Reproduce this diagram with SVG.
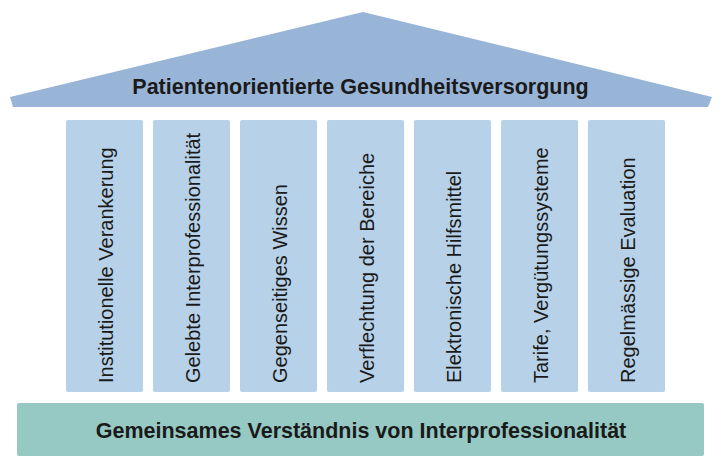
<svg xmlns="http://www.w3.org/2000/svg" width="726" height="474" viewBox="0 0 726 474">
<style>
.pillar{fill:#b7d2e8}
.ptxt{font-family:"Liberation Sans",Arial,sans-serif;font-size:20px;fill:#1a1a1a}
.btxt{font-family:"Liberation Sans",Arial,sans-serif;font-size:21.5px;font-weight:bold;fill:#1a1a1a;text-anchor:middle}
</style>
<rect width="726" height="474" fill="#ffffff"/>
<g id="roof">
<polygon points="10,97 363,12 712,97 708,107 13,107" fill="#98b5d8"/>
<text class="btxt" x="360.5" y="94">Patientenorientierte Gesundheitsversorgung</text>
</g>
<g id="pillar1"><rect class="pillar" x="66" y="120" width="77" height="272" rx="2"/><text class="ptxt" transform="translate(112.5,383) rotate(-90)">Institutionelle Verankerung</text></g>
<g id="pillar2"><rect class="pillar" x="153" y="120" width="77" height="272" rx="2"/><text class="ptxt" transform="translate(199.5,383) rotate(-90)">Gelebte Interprofessionalität</text></g>
<g id="pillar3"><rect class="pillar" x="240" y="120" width="77" height="272" rx="2"/><text class="ptxt" transform="translate(286.5,383) rotate(-90)">Gegenseitiges Wissen</text></g>
<g id="pillar4"><rect class="pillar" x="327" y="120" width="77" height="272" rx="2"/><text class="ptxt" transform="translate(373.5,383) rotate(-90)">Verflechtung der Bereiche</text></g>
<g id="pillar5"><rect class="pillar" x="414" y="120" width="77" height="272" rx="2"/><text class="ptxt" transform="translate(460.5,383) rotate(-90)">Elektronische Hilfsmittel</text></g>
<g id="pillar6"><rect class="pillar" x="501" y="120" width="77" height="272" rx="2"/><text class="ptxt" transform="translate(547.5,383) rotate(-90)">Tarife, Vergütungssysteme</text></g>
<g id="pillar7"><rect class="pillar" x="588" y="120" width="77" height="272" rx="2"/><text class="ptxt" transform="translate(634.5,383) rotate(-90)">Regelmässige Evaluation</text></g>
<g id="base">
<rect x="17" y="403" width="687" height="53" rx="2" fill="#96c9c3"/>
<text class="btxt" x="361" y="438">Gemeinsames Verständnis von Interprofessionalität</text>
</g>
<g id="connectors"/>
</svg>
